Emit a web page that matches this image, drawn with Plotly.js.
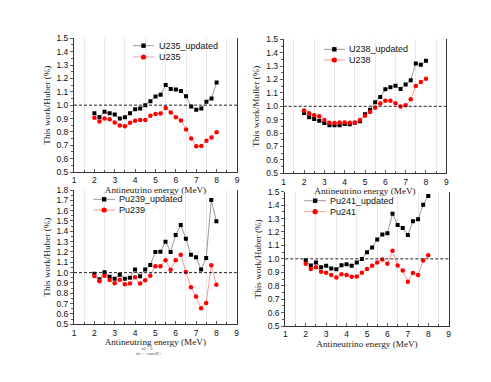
<!DOCTYPE html>
<html><head><meta charset="utf-8">
<script src="https://cdn.plot.ly/plotly-3.0.1.min.js"></script>
<style>html,body{margin:0;padding:0;background:#fff}#chart{width:491px;height:382px}</style>
</head><body><div id="chart"></div>
<script>
// ---- data ----
const energy = [2,2.25,2.5,2.75,3,3.25,3.5,3.75,4,4.25,4.5,4.75,5,5.25,5.5,5.75,6,6.25,6.5,6.75,7,7.25,7.5,7.75,8];

const u235Updated = [0.94,0.91,0.95,0.94,0.93,0.90,0.91,0.94,0.97,0.975,1.0,1.03,1.065,1.077,1.15,1.12,1.117,1.105,1.067,0.99,0.965,0.975,1.025,1.05,1.17];
const u235 = [0.905,0.878,0.90,0.895,0.87,0.848,0.843,0.868,0.883,0.888,0.888,0.92,0.933,0.938,0.978,0.945,0.91,0.885,0.818,0.75,0.693,0.695,0.733,0.758,0.798];

const u238Updated = [0.95,0.918,0.905,0.893,0.876,0.858,0.858,0.858,0.868,0.866,0.878,0.888,0.94,0.975,1.03,1.07,1.127,1.142,1.154,1.13,1.162,1.194,1.32,1.31,1.34];
const u238 = [0.968,0.948,0.933,0.925,0.898,0.878,0.876,0.88,0.88,0.878,0.878,0.898,0.93,0.958,0.99,1.02,1.042,1.042,1.022,0.998,1.007,1.052,1.152,1.182,1.206];

const pu239Updated = [0.99,0.935,1.003,0.96,0.94,0.98,0.94,0.95,1.03,0.965,1.03,1.074,1.2,1.203,1.3,1.2,1.364,1.461,1.329,1.174,1.148,1.03,1.142,1.703,1.497];
const pu239 = [0.968,0.916,0.971,0.929,0.897,0.932,0.887,0.894,0.955,0.894,0.926,0.971,1.061,1.061,1.119,1.029,1.119,1.174,1.006,0.858,0.768,0.655,0.706,1.071,0.884];

const pu241Updated = [0.99,0.95,0.973,0.938,0.948,0.928,0.923,0.952,0.96,0.948,0.973,0.998,1.05,1.085,1.145,1.182,1.19,1.336,1.252,1.23,1.178,1.28,1.294,1.403,1.468];
const pu241 = [0.963,0.924,0.938,0.904,0.896,0.879,0.862,0.886,0.879,0.866,0.869,0.896,0.924,0.949,0.973,0.996,0.963,1.06,0.951,0.914,0.83,0.894,0.879,0.988,1.026];

const seriesNames = [['U235_updated','U235'],['U238_updated','U238'],['Pu239_updated','Pu239'],['Pu241_updated','Pu241']];
const yTitles = ['This work/Huber (%)','This work/Muller (%)','This work/Huber (%)','This work/Huber (%)'];
const xTitles = ['Antineutrino energy (MeV)','Antineutrino energy (MeV)','Antineutring energy (MeV)','Antineutrino energy (MeV)'];
const noteLines = ['x0 = 0','dx = <autoX>'];

// ---- layout geometry (pixels) ----
const W = 491, H = 382;
const px = v => v / W;
const py = v => 1 - v / H;

const panels = [
  {upd:u235Updated, base:u235, box:{x:[74,237], y:[38.3,172]}, yr:[0.5,1.5], leg:{x0:133,x1:154,tx:157,y:[45.7,57]}},
  {upd:u238Updated, base:u238, box:{x:[283.7,446.3], y:[39.3,173.3]}, yr:[0.5,1.5], leg:{x0:323.7,x1:345,tx:347,y:[49.3,60]}},
  {upd:pu239Updated, base:pu239, box:{x:[74,236.7], y:[190,324.3]}, yr:[0.5,1.8], leg:{x0:93.3,x1:115,tx:117,y:[199.3,210]}},
  {upd:pu241Updated, base:pu241, box:{x:[285.3,448.7], y:[191.7,326]}, yr:[0.5,1.5], leg:{x0:304.3,x1:326,tx:328,y:[200.7,211.7]}}
];

const updStyle = {line:{color:'#808080', width:0.8}, marker:{symbol:'square', size:4, color:'#000000'}};
const baseStyle = {line:{color:'#ff8080', width:0.8}, marker:{symbol:'circle', size:4.5, color:'#ff0000'}};

const traces = [];
const layout = {
  width: W, height: H,
  margin: {l:0, r:0, t:0, b:0},
  paper_bgcolor: '#ffffff', plot_bgcolor: '#ffffff',
  showlegend: false,
  font: {family: 'Liberation Sans, Arial, sans-serif', color: '#000'},
  shapes: [], annotations: []
};

panels.forEach((p, i) => {
  const n = i === 0 ? '' : String(i + 1);
  const xa = 'x' + n, ya = 'y' + n;
  traces.push(Object.assign({type:'scatter', mode:'lines+markers', x:energy, y:p.upd, name:seriesNames[i][0], xaxis:xa, yaxis:ya}, updStyle));
  traces.push(Object.assign({type:'scatter', mode:'lines+markers', x:energy, y:p.base, name:seriesNames[i][1], xaxis:xa, yaxis:ya}, baseStyle));

  layout['xaxis' + n] = {
    domain: [px(p.box.x[0]), px(p.box.x[1])], anchor: ya, range: [1, 9],
    dtick: 1, tick0: 1, ticks: 'inside', ticklen: 3, tickwidth: 0.8, tickcolor: '#333',
    ticklabelstandoff: 0,
    showline: true, linecolor: '#333', linewidth: 1, mirror: false, zeroline: false,
    showgrid: false,
    minor: {dtick: 0.5, showgrid: true, gridcolor: '#e4e4e4', gridwidth: 0.8, ticks: 'inside', ticklen: 2, tickcolor: '#333'},
    tickfont: {family: 'Liberation Sans, Arial, sans-serif', size: 8.5, color: '#111'},
    title: {text: xTitles[i], standoff: 0, font: {family: 'Liberation Serif, Times New Roman, serif', size: 9.2, color: '#222'}},
    automargin: false, fixedrange: true
  };
  layout['yaxis' + n] = {
    domain: [py(p.box.y[1]), py(p.box.y[0])], anchor: xa, range: p.yr,
    dtick: 0.1, tick0: 0.5, tickformat: '.1f', ticks: 'outside', ticklen: 3, tickwidth: 0.8, tickcolor: '#333',
    showline: true, linecolor: '#333', linewidth: 1, mirror: true, zeroline: false,
    showgrid: false,
    minor: {dtick: 0.05, ticks: 'outside', ticklen: 2, tickcolor: '#333', showgrid: false},
    tickfont: {family: 'Liberation Sans, Arial, sans-serif', size: 8.5, color: '#111'},
    title: {text: yTitles[i], standoff: 4, font: {family: 'Liberation Serif, Times New Roman, serif', size: 9.2, color: '#222'}},
    automargin: false, fixedrange: true
  };

  // reference line at ratio = 1
  layout.shapes.push({type:'line', xref: xa + ' domain', yref: ya, x0: 0, x1: 1, y0: 1, y1: 1,
    line: {color: '#222', width: 1, dash: '3px,2px'}});

  // manual legend (compact spacing as in the reference)
  const L = p.leg;
  const styles = [updStyle, baseStyle];
  [0, 1].forEach(k => {
    const yy = py(L.y[k]);
    const st = styles[k];
    layout.shapes.push({type:'line', xref:'paper', yref:'paper', x0:px(L.x0), x1:px(L.x1), y0:yy, y1:yy,
      line:{color: st.line.color, width: 0.8}});
    const cx = (L.x0 + L.x1) / 2, cy = L.y[k];
    const r = k === 0 ? 2.2 : 2.6;
    layout.shapes.push({type: k === 0 ? 'rect' : 'circle', xref:'paper', yref:'paper',
      x0:px(cx - r), x1:px(cx + r), y0:py(cy + r), y1:py(cy - r),
      fillcolor: st.marker.color, line:{color: st.marker.color, width: 0}});
    layout.annotations.push({xref:'paper', yref:'paper', x:px(L.tx), y:yy, xanchor:'left', yanchor:'middle',
      text: seriesNames[i][k], showarrow:false,
      font:{family:'Liberation Sans, Arial, sans-serif', size:9, color:'#111'}});
  });
});

// small stray labels under the Pu239 panel
layout.annotations.push({xref:'paper', yref:'paper', x:px(147), y:py(348), text:noteLines[0], showarrow:false,
  xanchor:'center', yanchor:'middle', font:{family:'Liberation Serif, serif', size:4.5, color:'#555'}});
layout.annotations.push({xref:'paper', yref:'paper', x:px(149), y:py(353.5), text:noteLines[1], showarrow:false,
  xanchor:'center', yanchor:'middle', font:{family:'Liberation Serif, serif', size:4.5, color:'#555'}});

Plotly.newPlot('chart', traces, layout, {staticPlot: true, displayModeBar: false});
</script>
</body></html>
